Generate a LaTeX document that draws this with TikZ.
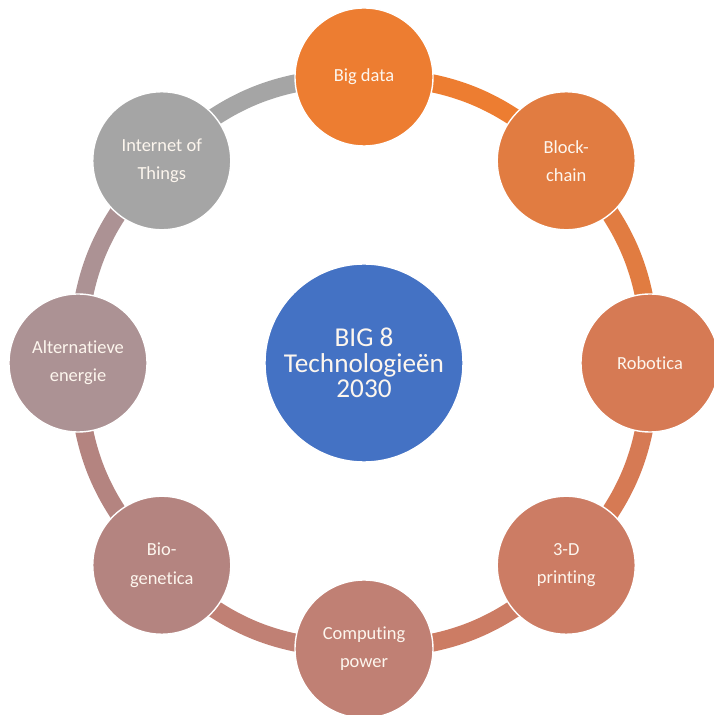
\documentclass[tikz,border=0pt]{standalone}
\usepackage{fontspec}
\setmainfont{Carlito}[Ligatures=NoCommon]
\usetikzlibrary{backgrounds}
\definecolor{coreblue}{HTML}{4472C4}
\definecolor{techA}{HTML}{ED7D31}
\definecolor{techB}{HTML}{E17C41}
\definecolor{techC}{HTML}{D67A54}
\definecolor{techD}{HTML}{CC7C64}
\definecolor{techE}{HTML}{C08074}
\definecolor{techF}{HTML}{B48480}
\definecolor{techG}{HTML}{AC9294}
\definecolor{techH}{HTML}{A5A5A5}
\definecolor{label}{HTML}{FDF6EE}
\tikzstyle{core} = [circle, minimum size=3.96cm, draw=white, line width=0.8pt, fill=coreblue, text=label, align=center, font=\fontsize{15.5}{14.5}\selectfont]
\tikzstyle{tech} = [circle, minimum size=2.76cm, draw=white, line width=0.8pt, text=label, align=center, font=\fontsize{10.5}{16}\selectfont]
\tikzstyle{ring} = [line width=0.36cm, bend left=22.5]

\begin{document}
\begin{tikzpicture}
	\useasboundingbox (-7.28,-7.04) rectangle (6.98,7.26);
	\node (core) [core] at (0,0) {BIG 8\\Technologieën\\2030};
	\node (bigdata) [tech, fill=techA] at (90:5.72) {Big data};
	\node (blockchain) [tech, fill=techB] at (45:5.72) {Block-\\chain};
	\node (robotica) [tech, fill=techC] at (0:5.72) {Robotica};
	\node (printing) [tech, fill=techD] at (-45:5.72) {3-D\\printing};
	\node (computing) [tech, fill=techE] at (-90:5.72) {Computing\\power};
	\node (biogenetica) [tech, fill=techF] at (-135:5.72) {Bio-\\genetica};
	\node (energie) [tech, fill=techG] at (180:5.72) {Alternatieve\\energie};
	\node (iot) [tech, fill=techH] at (135:5.72) {Internet of\\Things};

	% ring behind the circles
	\begin{pgfonlayer}{background}
		\draw [ring, techA] (bigdata.center) to (blockchain.center);
		\draw [ring, techB] (blockchain.center) to (robotica.center);
		\draw [ring, techC] (robotica.center) to (printing.center);
		\draw [ring, techD] (printing.center) to (computing.center);
		\draw [ring, techE] (computing.center) to (biogenetica.center);
		\draw [ring, techF] (biogenetica.center) to (energie.center);
		\draw [ring, techG] (energie.center) to (iot.center);
		\draw [ring, techH] (iot.center) to (bigdata.center);
	\end{pgfonlayer}
\end{tikzpicture}
\end{document}
